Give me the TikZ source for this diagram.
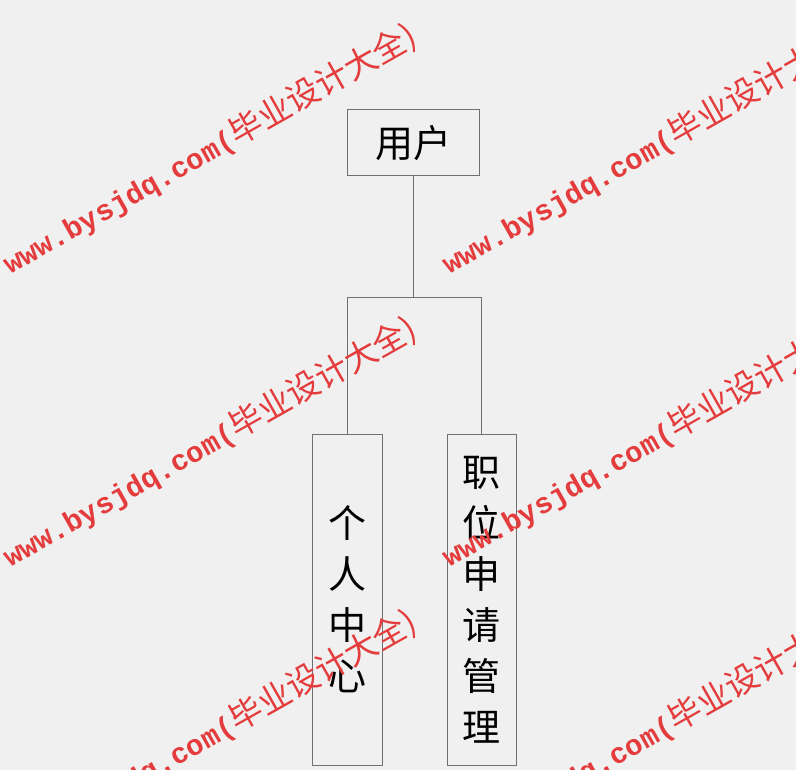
\documentclass[tikz,border=0pt]{standalone}
\usepackage{fontspec}
\newfontfamily\cjk{Noto Sans CJK SC}
\newfontfamily\wmmono{Liberation Mono}
\usepackage{tikz}
\usetikzlibrary{positioning}
\definecolor{bggray}{RGB}{240,240,240}
\definecolor{linegray}{RGB}{112,112,112}
\definecolor{wmred}{RGB}{228,60,60}
\tikzset{
  modbox/.style={draw=linegray, line width=1pt, inner sep=0pt},
  link/.style={draw=linegray, line width=1pt},
  mark text/.style={text=wmred, rotate=29.5, anchor=base west, inner sep=0pt}
}
\newcommand{\wmline}{{\wmmono\bfseries\fontsize{29}{29}\selectfont www.bysjdq.com(}{\cjk\fontsize{33}{33}\selectfont 毕业设计大全)}}

\begin{document}
\begin{tikzpicture}[x=1pt, y=-1pt]
      \fill[bggray] (0, 0) rectangle (796, 770);
      \useasboundingbox (0, 0) rectangle (796, 770);
      \clip (0, 0) rectangle (796, 770);
      % modules
      \node[modbox, minimum width=132pt, minimum height=66pt, font=\cjk\fontsize{38}{38}\selectfont] (user) at (413, 143) {用户};
      \node[modbox, minimum width=70pt, minimum height=331pt, align=center, font=\cjk\fontsize{38}{51}\selectfont] (center) at (347, 599.5) {个\\人\\中\\心};
      \node[modbox, minimum width=69pt, minimum height=331pt, align=center, font=\cjk\fontsize{38}{51}\selectfont] (apply) at (481.5, 599.5) {职\\位\\申\\请\\管\\理};
      % connectors
      \coordinate (fork) at (413, 298);
      \draw[link] (user.south) -- (fork);
      \draw[link] (center.north) -- (center.north |- fork) -- (apply.north |- fork) -- (apply.north);
      % watermark
      \foreach \row in {0, 1, 2} {
        \node[mark text] (markl\row) at (10, 275 + 293*\row) {\wmline};
        \node[mark text] (markr\row) at (449, 275 + 293*\row) {\wmline};
      }
    \end{tikzpicture}
\end{document}
